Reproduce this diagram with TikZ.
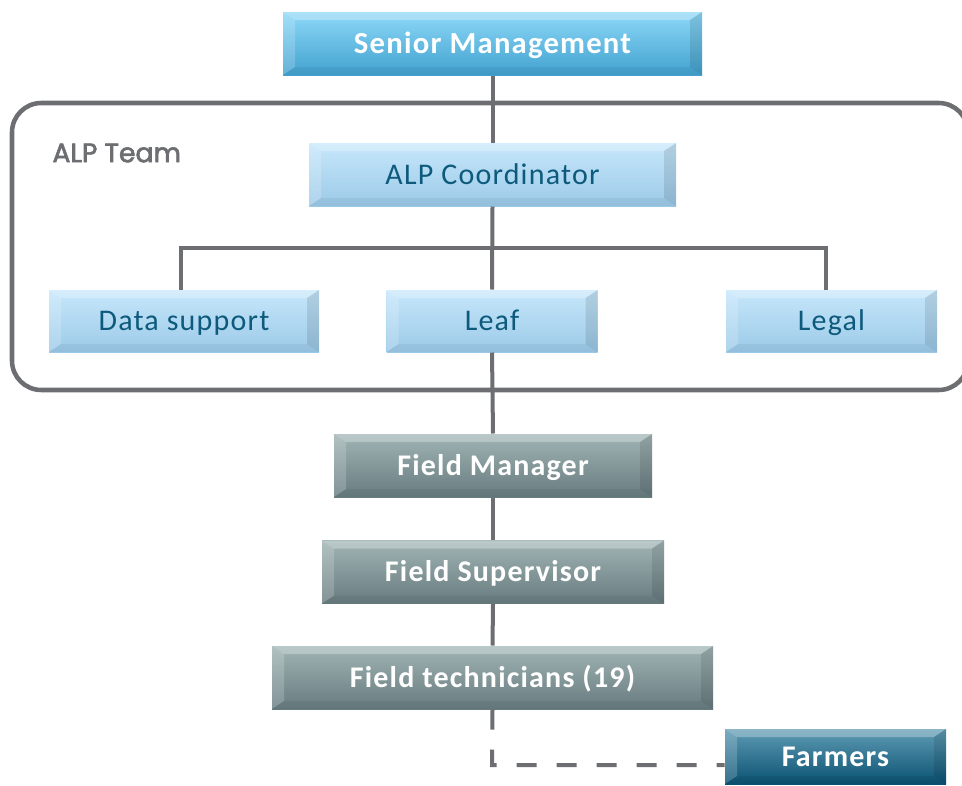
\documentclass[tikz,border=0pt]{standalone}
\usepackage{fontspec}
\setmainfont{Carlito}[LetterSpace=4]
\newfontfamily\teamfont[FakeBold=2.4]{Poppins}
\usetikzlibrary{positioning}

\definecolor{lineGray}{HTML}{6D6E71}
\definecolor{skyTop}{HTML}{8DD8F8}
\definecolor{skyMid}{HTML}{4FC3F7}
\definecolor{skyBot}{HTML}{42A2CF}
\definecolor{paleTop}{HTML}{C6E7FB}
\definecolor{paleMid}{HTML}{A6DBF9}
\definecolor{paleBot}{HTML}{9CCAE8}
\definecolor{paleText}{HTML}{0E5A7C}
\definecolor{slateTop}{HTML}{A0B4B4}
\definecolor{slateMid}{HTML}{7F9797}
\definecolor{slateBot}{HTML}{687C80}
\definecolor{tealTop}{HTML}{5F9BB4}
\definecolor{tealMid}{HTML}{0D6083}
\definecolor{tealBot}{HTML}{0A5272}

\tikzset{every picture/.style={line width=0.75pt}}
\tikzset{
  bevel/.style={path picture={
    \fill[white,opacity=0.28] (path picture bounding box.north west) -- (path picture bounding box.north east)
      -- ([shift={(-12,-8)}]path picture bounding box.north east) -- ([shift={(12,-8)}]path picture bounding box.north west) -- cycle;
    \fill[white,opacity=0.18] (path picture bounding box.north west) -- ([shift={(12,-8)}]path picture bounding box.north west)
      -- ([shift={(12,8)}]path picture bounding box.south west) -- (path picture bounding box.south west) -- cycle;
    \fill[black,opacity=0.10] (path picture bounding box.north east) -- ([shift={(-12,-8)}]path picture bounding box.north east)
      -- ([shift={(-12,8)}]path picture bounding box.south east) -- (path picture bounding box.south east) -- cycle;
    \fill[black,opacity=0.05] (path picture bounding box.south west) -- ([shift={(12,8)}]path picture bounding box.south west)
      -- ([shift={(-12,8)}]path picture bounding box.south east) -- (path picture bounding box.south east) -- cycle;
  }},
  box/.style={rectangle, inner sep=0pt, minimum height=47.25pt, text height=14.5pt, text depth=0pt, bevel},
  skybox/.style={box, top color=skyTop, middle color=skyMid, bottom color=skyBot, text=white, font=\fontsize{23}{27}\selectfont\bfseries},
  palebox/.style={box, top color=paleTop, middle color=paleMid, bottom color=paleBot, text=paleText, font=\fontsize{22.5}{26}\selectfont},
  slatebox/.style={box, top color=slateTop, middle color=slateMid, bottom color=slateBot, text=white, font=\fontsize{22.5}{26}\selectfont\bfseries},
  tealbox/.style={box, top color=tealTop, middle color=tealMid, bottom color=tealBot, text=white, font=\fontsize{22.5}{26}\selectfont\bfseries},
  link/.style={draw=lineGray, line width=3pt},
}

\begin{document}
\begin{tikzpicture}[x=0.75pt,y=0.75pt,yscale=-1,xscale=1]
    \useasboundingbox (0,0) rectangle (962,785);

    %Shape: Rounded Rect (team frame)
    \draw[lineGray, line width=3.4pt, rounded corners=22pt] (12,103) rectangle (968,390);
    % Text Node
    \draw (52,153) node [anchor=west, inner sep=0pt, text=lineGray, font=\teamfont\fontsize{20}{24}\selectfont] (teamlbl) {ALP Team};

    % Boxes
    \node [skybox, minimum width=314.25pt] (senior) at (492.5,43.5) {Senior Management};
    \node [palebox, minimum width=275.25pt] (coord) at (492.5,174.5) {ALP Coordinator};
    \node [palebox, minimum width=202.5pt, minimum height=46.5pt] (data) at (184,321) {Data support};
    \node [palebox, minimum width=158.25pt, minimum height=46.5pt] (leaf) at (492,321) {Leaf};
    \node [palebox, minimum width=158.25pt, minimum height=46.5pt] (legal) at (831.5,321) {Legal};
    \node [slatebox, minimum width=238.5pt] (fmanager) at (493,465.5) {Field Manager};
    \node [slatebox, minimum width=256.5pt] (fsuper) at (493,572) {Field Supervisor};
    \node [slatebox, minimum width=330.75pt] (ftech) at (492.5,677.5) {Field technicians (19)};
    \node [tealbox, minimum width=165.75pt, minimum height=41.25pt] (farmers) at (835.5,756.5) {Farmers};
    \coordinate (fork) at (492,248);
    \coordinate (bend) at (492,765);

    %Straight Lines
    \draw [link] (senior.south) -- (coord.north);
    \draw [link] (coord.south) -- (leaf.north);
    \draw [link] (data.north -| 181,0) |- (fork) -| (legal.north -| 826,0);
    \draw [link] (leaf.south) -- (fmanager.north);
    \draw [link] (fmanager.south) -- (fsuper.north);
    \draw [link] (fsuper.south) -- (ftech.north);
    %Dashed Lines
    \draw [link, dash pattern=on 15pt off 15pt] (ftech.south) -- (bend) -- (bend -| farmers.west);

\end{tikzpicture}
\end{document}
